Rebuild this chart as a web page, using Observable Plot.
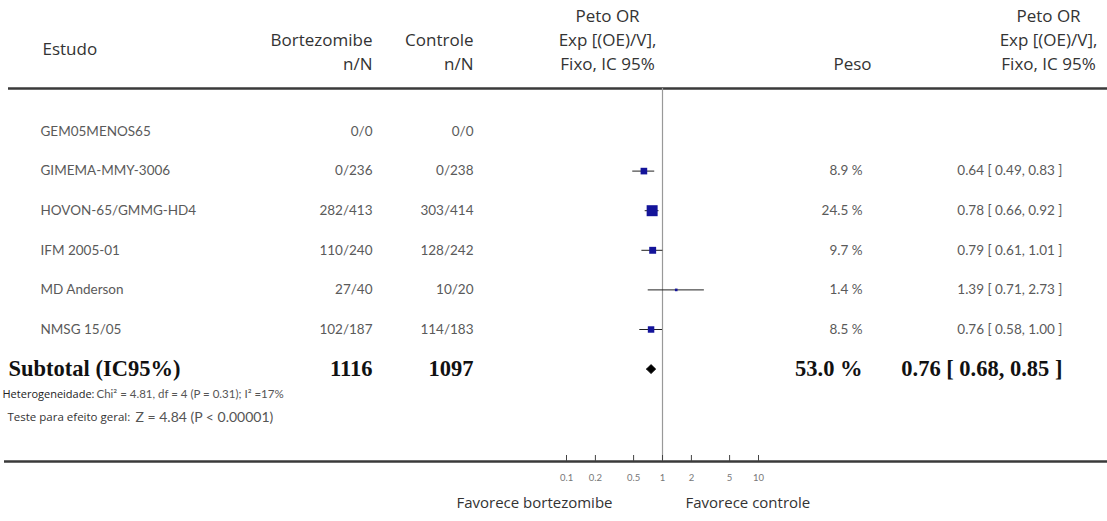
<!DOCTYPE html>
<html>
<head>
<meta charset="utf-8">
<script src="https://cdn.jsdelivr.net/npm/d3@7"></script>
<script src="https://cdn.jsdelivr.net/npm/@observablehq/plot@0.6"></script>
<style>
  body { margin: 0; background: #fff; }
  #chart svg { display: block; }
</style>
</head>
<body>
<div id="chart"></div>
<script>
// Peto odds ratios (fixed effect) per study, bortezomibe vs controle
const studies     = ["GEM05MENOS65", "GIMEMA-MMY-3006", "HOVON-65/GMMG-HD4", "IFM 2005-01", "MD Anderson", "NMSG 15/05"];
const bortezomibe = ["0/0", "0/236", "282/413", "110/240", "27/40", "102/187"];
const controle    = ["0/0", "0/238", "303/414", "128/242", "10/20", "114/183"];
const peso        = [null, 8.9, 24.5, 9.7, 1.4, 8.5];
const oddsRatio   = [null, 0.64, 0.78, 0.79, 1.39, 0.76];
const ciLow       = [null, 0.49, 0.66, 0.61, 0.71, 0.58];
const ciHigh      = [null, 0.83, 0.92, 1.01, 2.73, 1.00];

const subtotalLabel = "Subtotal (IC95%)";
const subtotalN     = [1116, 1097];
const subtotalPeso  = 53.0;
const subtotalOR    = [0.76, 0.68, 0.85]; // estimate, low, high

const heterogeneity = ["Heterogeneidade:", "Chi² = 4.81, df = 4 (P = 0.31); I² =17%"];
const overallTest   = ["Teste para efeito geral: ", "Z = 4.84 (P < 0.00001)"];
const axisTicks     = [0.1, 0.2, 0.5, 1, 2, 5, 10];
const axisLabels    = ["Favorece bortezomibe", "Favorece controle"];

// ---- layout (pixels) ----
const W = 1107, H = 521;
const frameLeft = 566, frameRight = 758, frameTop = 88, frameBottom = 461;
const rowStep = 39.6, firstRow = 131;          // centre of row 0, spacing
const col = {name: 40, bort: 372, ctrl: 473, plotHead: 607, peso: 862, ci: 1062, ciHead: 1048};
const dxFrom = px => px - frameLeft;

const rows = studies.map((s, i) => ({
  i, study: s, bort: bortezomibe[i], ctrl: controle[i],
  peso: peso[i], or: oddsRatio[i], lo: ciLow[i], hi: ciHigh[i]
}));
const withEffect = rows.filter(d => d.or != null);
const subIndex = studies.length;
const subtotal = {i: subIndex, or: subtotalOR[0], lo: subtotalOR[1], hi: subtotalOR[2]};

const fmt2 = v => v.toFixed(2);
const ciText = d => `${fmt2(d.or)} [ ${fmt2(d.lo)}, ${fmt2(d.hi)} ]`;

const yTop = (frameTop - firstRow) / rowStep;
const yBottom = (frameBottom - firstRow) / rowStep;
const diamondHalf = 4.5 / rowStep;

const sans = "'Open Sans', 'Noto Sans', sans-serif";
const light = "Lato, 'Noto Sans', sans-serif";
const serif = "'Liberation Serif', 'DejaVu Serif', serif";

const rowText = {frameAnchor: "left", fontFamily: light, fontSize: 13.5, fill: "#5a5a5a"};
const headText = {frameAnchor: "top-left", fontFamily: sans, fontSize: 17, fill: "#333", lineHeight: 1.4, lineAnchor: "middle"};
const boldText = {frameAnchor: "left", fontFamily: serif, fontSize: 22.5, fontWeight: "bold", fill: "#111"};

const diamond = [
  {x: subtotal.lo, y: subIndex},
  {x: subtotal.or, y: subIndex - diamondHalf},
  {x: subtotal.hi, y: subIndex},
  {x: subtotal.or, y: subIndex + diamondHalf},
  {x: subtotal.lo, y: subIndex}
];

const chart = Plot.plot({
  width: W,
  height: H,
  marginLeft: frameLeft,
  marginRight: W - frameRight,
  marginTop: frameTop,
  marginBottom: H - frameBottom,
  style: {background: "#fff"},
  x: {type: "log", domain: [0.1, 10], label: null, axis: null},
  y: {domain: [yTop, yBottom], reverse: true, axis: null},
  r: {type: "sqrt", domain: [0, 24.5], range: [0, 6.2]},
  marks: [
    // header and axis rules spanning the whole table
    Plot.ruleY([yTop], {insetLeft: -(frameLeft - 8), insetRight: -(W - frameRight), stroke: "#3a3a3a", strokeWidth: 2.6}),
    Plot.ruleY([yBottom], {insetLeft: -(frameLeft - 4), insetRight: -(W - frameRight), stroke: "#3a3a3a", strokeWidth: 2.6}),
    // line of no effect
    Plot.ruleX([1], {stroke: "#999", strokeWidth: 1.2}),
    // tick marks rising from the axis line, with their labels below
    Plot.ruleX(axisTicks, {x: d => d, insetTop: frameBottom - frameTop - 6, stroke: "#444", strokeWidth: 1}),
    Plot.text(axisTicks, {x: d => d, text: d => String(d), frameAnchor: "bottom", dy: 19, fontSize: 9.5, fontFamily: light, fill: "#777"}),

    // confidence intervals and study estimates
    Plot.ruleY(withEffect, {y: "i", x1: "lo", x2: "hi", stroke: "#222", strokeWidth: 1}),
    Plot.dot(withEffect, {x: "or", y: "i", r: "peso", symbol: "square", fill: "#14149a", stroke: "none"}),
    // pooled estimate
    Plot.line(diamond, {x: "x", y: "y", fill: "#000", stroke: "#000", strokeWidth: 0.8}),

    // column headers
    Plot.text(["Estudo"], {...headText, dx: dxFrom(42), dy: 47 - frameTop, textAnchor: "start"}),
    Plot.text(["Bortezomibe\nn/N"], {...headText, dx: dxFrom(col.bort), dy: 50 - frameTop, textAnchor: "end"}),
    Plot.text(["Controle\nn/N"], {...headText, dx: dxFrom(col.ctrl), dy: 50 - frameTop, textAnchor: "end"}),
    Plot.text(["Peto OR\nExp [(OE)/V],\nFixo, IC 95%"], {...headText, dx: dxFrom(col.plotHead), dy: 38 - frameTop, textAnchor: "middle"}),
    Plot.text(["Peso"], {...headText, dx: dxFrom(col.peso - 10), dy: 62 - frameTop, textAnchor: "middle"}),
    Plot.text(["Peto OR\nExp [(OE)/V],\nFixo, IC 95%"], {...headText, dx: dxFrom(col.ciHead), dy: 38 - frameTop, textAnchor: "middle"}),

    // study rows
    Plot.text(rows, {...rowText, y: "i", text: "study", dx: dxFrom(col.name), textAnchor: "start"}),
    Plot.text(rows, {...rowText, y: "i", text: "bort", dx: dxFrom(col.bort), textAnchor: "end"}),
    Plot.text(rows, {...rowText, y: "i", text: "ctrl", dx: dxFrom(col.ctrl), textAnchor: "end"}),
    Plot.text(withEffect, {...rowText, y: "i", text: d => `${d.peso.toFixed(1)} %`, dx: dxFrom(col.peso), textAnchor: "end"}),
    Plot.text(withEffect, {...rowText, y: "i", text: ciText, dx: dxFrom(col.ci), textAnchor: "end"}),

    // subtotal row
    Plot.text([subtotalLabel], {...boldText, y: subIndex, dx: dxFrom(8), textAnchor: "start"}),
    Plot.text([String(subtotalN[0])], {...boldText, y: subIndex, dx: dxFrom(col.bort), textAnchor: "end"}),
    Plot.text([String(subtotalN[1])], {...boldText, y: subIndex, dx: dxFrom(col.ctrl), textAnchor: "end"}),
    Plot.text([`${subtotalPeso.toFixed(1)} %`], {...boldText, y: subIndex, dx: dxFrom(col.peso), textAnchor: "end"}),
    Plot.text([subtotal], {...boldText, y: subIndex, text: ciText, dx: dxFrom(col.ci), textAnchor: "end"}),

    // heterogeneity and overall effect notes
    Plot.text([heterogeneity[0]], {frameAnchor: "left", y: subIndex, dy: 25, dx: dxFrom(2), textAnchor: "start", fontFamily: sans, fontSize: 11, fill: "#222"}),
    Plot.text([heterogeneity[1]], {frameAnchor: "left", y: subIndex, dy: 25, dx: dxFrom(96), textAnchor: "start", fontFamily: light, fontSize: 11.5, fill: "#555"}),
    Plot.text([overallTest[0]], {frameAnchor: "left", y: subIndex, dy: 48, dx: dxFrom(7), textAnchor: "start", fontFamily: sans, fontSize: 11.5, fill: "#333"}),
    Plot.text([overallTest[1]], {frameAnchor: "left", y: subIndex, dy: 48, dx: dxFrom(135), textAnchor: "start", fontFamily: light, fontSize: 14, fill: "#555"}),

    // direction labels under the axis
    Plot.text([axisLabels[0]], {x: 1, frameAnchor: "bottom", dy: 46, dx: -50, textAnchor: "end", fontFamily: sans, fontSize: 15, fill: "#333"}),
    Plot.text([axisLabels[1]], {x: 1, frameAnchor: "bottom", dy: 46, dx: 23, textAnchor: "start", fontFamily: sans, fontSize: 15, fill: "#333"})
  ]
});

document.getElementById("chart").appendChild(chart);
</script>
</body>
</html>
